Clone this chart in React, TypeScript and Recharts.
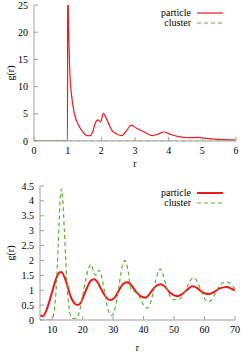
import React from 'react';
import { LineChart, Line, XAxis, YAxis, Legend, Label } from 'recharts';

// Top panel: short-range g(r)
const topParticleR = [0, 0.995, 1.0, 1.03, 1.07, 1.12, 1.17, 1.22, 1.3, 1.37, 1.47, 1.57, 1.67, 1.75, 1.82, 1.9, 1.98, 2.06, 2.16, 2.31, 2.46, 2.61, 2.76, 2.88, 3.06, 3.26, 3.51, 3.66, 3.86, 4.06, 4.3, 4.55, 4.85, 5.1, 5.35, 5.6, 5.85, 6.0];
const topParticleG = [0, 0, 30, 20, 12, 8.2, 6, 4.5, 3.2, 2.4, 1.5, 1.0, 1.0, 1.8, 3.3, 3.9, 3.5, 5.1, 4.0, 2.0, 1.3, 1.0, 2.0, 2.9, 2.3, 1.7, 1.0, 1.2, 1.65, 1.2, 0.8, 0.6, 0.65, 0.5, 0.35, 0.25, 0.2, 0.18];
const topClusterR = [0, 6];
const topClusterG = [0, 0];

// Bottom panel: long-range g(r)
const botParticleR = [6, 7, 8, 9, 10, 11, 12, 12.9, 14, 15, 16, 17, 18.4, 19.5, 20.5, 21.5, 22.5, 23.8, 25, 26, 27, 28, 29.2, 30.5, 31.5, 32.5, 33.5, 34.7, 36, 37, 38, 39, 40.6, 42, 43, 44, 45.5, 47, 48, 49, 51, 52.5, 54, 56, 57.5, 59, 60, 61.5, 63, 64, 65, 67.3, 69, 70];
const botParticleG = [0.15, 0.13, 0.3, 0.6, 0.95, 1.3, 1.55, 1.61, 1.45, 1.15, 0.8, 0.6, 0.5, 0.6, 0.85, 1.1, 1.3, 1.37, 1.25, 1.05, 0.87, 0.73, 0.67, 0.75, 0.92, 1.1, 1.23, 1.27, 1.17, 1.02, 0.9, 0.8, 0.75, 0.88, 1.02, 1.13, 1.2, 1.12, 0.99, 0.89, 0.8, 0.86, 0.99, 1.13, 1.08, 0.95, 0.9, 0.87, 0.93, 1.0, 1.06, 1.11, 1.04, 1.0];
const botClusterR = [6, 7, 8, 9, 10, 10.5, 11, 11.5, 12, 12.5, 13, 13.5, 14, 14.5, 15, 15.5, 16, 17, 18, 19, 20, 21, 22, 22.7, 23.5, 24.3, 25.4, 26, 27, 28, 29, 29.5, 30, 31, 32, 33, 33.9, 35, 35.8, 37, 38, 39, 40, 41.2, 42, 43, 44, 45, 45.5, 46, 47, 48, 49, 50, 51, 52, 53, 54, 55, 56.3, 57, 58, 59, 60, 61.2, 62, 63, 64, 65, 66, 67.3, 68, 69, 70];
const botClusterG = [0, 0, 0, 0, 0.05, 0.2, 0.6, 1.4, 2.6, 3.8, 4.4, 4.0, 3.0, 1.9, 1.0, 0.45, 0.15, 0.05, 0.05, 0.3, 0.8, 1.35, 1.75, 1.87, 1.65, 1.5, 1.67, 1.55, 1.05, 0.5, 0.18, 0.15, 0.2, 0.55, 1.2, 1.8, 2.0, 1.6, 1.05, 0.95, 0.9, 0.7, 0.5, 0.4, 0.5, 0.85, 1.35, 1.65, 1.72, 1.65, 1.3, 0.95, 0.75, 0.68, 0.68, 0.72, 0.85, 1.05, 1.28, 1.42, 1.38, 1.2, 0.95, 0.72, 0.61, 0.65, 0.8, 1.0, 1.15, 1.25, 1.28, 1.25, 1.15, 1.05];

const topXTicks = [0, 1, 2, 3, 4, 5, 6];
const topYTicks = [0, 5, 10, 15, 20, 25];
const botXTicks = [10, 20, 30, 40, 50, 60, 70];
const botYTicks = [0, 0.5, 1, 1.5, 2, 2.5, 3, 3.5, 4, 4.5];

const seriesNames = ['particle', 'cluster'];

const zip = (rs: number[], gs: number[]) => rs.map((r, i) => ({ r, g: gs[i] }));

const RED = '#f01818';
const GREEN = '#5fb030';
const AXIS = '#a0a0a0';
const FONT = 'Liberation Serif';
const tickStyle = { fill: '#000', fontSize: 10, fontFamily: FONT };

function LegendBox({ redWidth }: { redWidth: number }) {
  const items = [
    { name: seriesNames[0], color: RED, dash: undefined as string | undefined, w: redWidth },
    { name: seriesNames[1], color: GREEN, dash: '4 3', w: 1.2 },
  ];
  return (
    <div style={{ fontFamily: FONT, fontSize: 10, color: '#000' }}>
      {items.map((it) => (
        <div key={it.name} style={{ display: 'flex', justifyContent: 'flex-end', alignItems: 'center', height: 10, lineHeight: '10px' }}>
          <span>{it.name}</span>
          <svg width={26} height={10} style={{ marginLeft: 6, marginRight: 2, display: 'block' }}>
            <line x1={0} y1={5} x2={26} y2={5} stroke={it.color} strokeWidth={it.w} strokeDasharray={it.dash} />
          </svg>
        </div>
      ))}
    </div>
  );
}

function Panel(props: {
  width: number; height: number; margin: any; yWidth: number; xHeight: number;
  xDomain: [number, number]; yDomain: [number, number]; xTicks: number[]; yTicks: number[];
  particle: { r: number; g: number }[]; cluster: { r: number; g: number }[];
  redWidth: number; legendTop: number; ylabelOffset: number; xlabelOffset: number;
}) {
  const p = props;
  return (
    <LineChart width={p.width} height={p.height} margin={p.margin} style={{ fontFamily: FONT }}>
      <XAxis xAxisId={0} type="number" dataKey="r" domain={p.xDomain} ticks={p.xTicks} allowDataOverflow
        height={p.xHeight} stroke={AXIS} tickSize={-4} tickMargin={10} tick={tickStyle} interval={0}>
        <Label value="r" position="insideBottom" offset={p.xlabelOffset} fontFamily={FONT} fontSize={10} fill="#000" />
      </XAxis>
      <XAxis xAxisId="top" orientation="top" type="number" dataKey="r" domain={p.xDomain} ticks={p.xTicks} allowDataOverflow
        height={0} stroke={AXIS} tickSize={-4} tickFormatter={() => ''} interval={0} />
      <YAxis yAxisId={0} type="number" domain={p.yDomain} ticks={p.yTicks} allowDataOverflow width={p.yWidth}
        stroke={AXIS} tickSize={-4} tickMargin={10} tick={tickStyle} interval={0}>
        <Label value="g(r)" angle={-90} position="insideLeft" offset={p.ylabelOffset} textAnchor="middle"
          fontFamily={FONT} fontSize={10} fill="#000" style={{ textAnchor: 'middle' }} />
      </YAxis>
      <YAxis yAxisId="right" orientation="right" type="number" domain={p.yDomain} ticks={p.yTicks} allowDataOverflow width={0}
        stroke={AXIS} tickSize={-4} tickFormatter={() => ''} interval={0} />
      <Legend layout="vertical" align="center" verticalAlign="middle"
        wrapperStyle={{ top: p.legendTop, left: 100, width: 125, height: 20 }}
        content={() => <LegendBox redWidth={p.redWidth} />} />
      <Line name={seriesNames[0]} data={p.particle} dataKey="g" xAxisId={0} yAxisId={0} type="monotone"
        stroke={RED} strokeWidth={p.redWidth} dot={false} isAnimationActive={false} />
      <Line name={seriesNames[1]} data={p.cluster} dataKey="g" xAxisId={0} yAxisId={0} type="monotone"
        stroke={GREEN} strokeWidth={1.2} strokeDasharray="4 3" dot={false} isAnimationActive={false} />
    </LineChart>
  );
}

export default function App() {
  return (
    <div style={{ position: 'absolute', left: 0, top: 0, width: 241, height: 352, background: '#fff', fontFamily: FONT }}>
      <Panel width={241} height={170} margin={{ top: 5, right: 5, bottom: 0, left: 4 }} yWidth={30} xHeight={29}
        xDomain={[0, 6]} yDomain={[0, 25]} xTicks={topXTicks} yTicks={topYTicks}
        particle={zip(topParticleR, topParticleG)} cluster={zip(topClusterR, topClusterG)}
        redWidth={1.2} legendTop={8} ylabelOffset={6} xlabelOffset={3} />
      <Panel width={241} height={182} margin={{ top: 16, right: 6, bottom: 0, left: 4 }} yWidth={36} xHeight={32}
        xDomain={[6, 70]} yDomain={[0, 4.5]} xTicks={botXTicks} yTicks={botYTicks}
        particle={zip(botParticleR, botParticleG)} cluster={zip(botClusterR, botClusterG)}
        redWidth={2} legendTop={18} ylabelOffset={6} xlabelOffset={1} />
    </div>
  );
}
